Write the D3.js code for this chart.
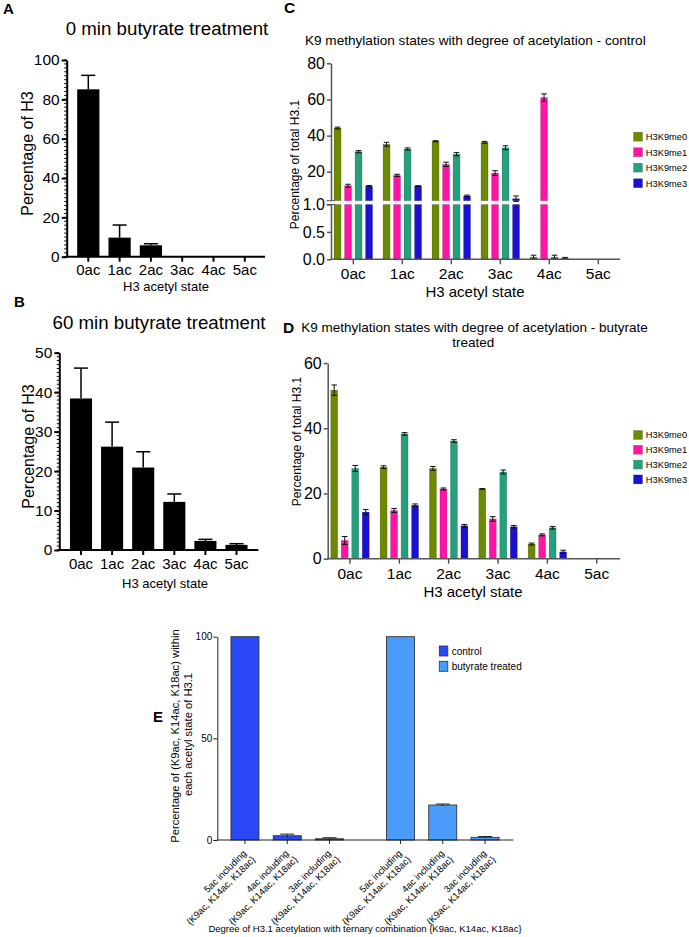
<!DOCTYPE html>
<html><head><meta charset="utf-8">
<script src="https://cdn.jsdelivr.net/npm/d3@7"></script>
<style>body{margin:0;background:#fff}</style>
</head><body><svg id="c" width="689" height="937"></svg>
<script>
// ---------- DATA ----------
const acetylStates = ["0ac","1ac","2ac","3ac","4ac","5ac"];
const yTicksA = [0,20,40,60,80,100];
const yTicksB = [0,10,20,30,40,50];
const pct0min = [85.1, 9.7, 5.8, 0, 0, 0];
const err0min = [7.1, 6.4, 0.8, 0, 0, 0];
const pct60min = [38.4, 26.2, 20.9, 12.2, 2.3, 1.3];
const err60min = [7.7, 6.2, 4.0, 2.0, 0.4, 0.3];

const methylStates = ["H3K9me0","H3K9me1","H3K9me2","H3K9me3"];
const methylColors = ["#6b8a00","#ff14a6","#26a07c","#1a10cf"];
// panel C (control)
const ctrlMe0 = [44.2, 35.2, 36.9, 36.3, 0.04, 0];
const ctrlMe1 = [12.3, 18.0, 24.1, 19.3, 61.0, 0];
const ctrlMe2 = [31.1, 32.6, 29.7, 33.3, 0.04, 0];
const ctrlMe3 = [12.0, 12.1, 6.6, 5.1, 0.02, 0];
const ctrlMe0Err = [0.5, 1.1, 0.3, 0.5, 0.035, 0];
const ctrlMe1Err = [0.8, 0.6, 1.2, 1.3, 2.1, 0];
const ctrlMe2Err = [0.6, 0.6, 0.9, 1.1, 0.035, 0];
const ctrlMe3Err = [0.4, 0.2, 0.5, 1.5, 0.015, 0];
const yTicksCLow = [0, 0.5, 1.0];
const yTicksCHigh = [20, 40, 60, 80];
// panel D (butyrate treated)
const butMe0 = [51.7, 28.1, 27.7, 21.4, 4.5, 0];
const butMe1 = [5.6, 14.8, 21.4, 12.2, 7.3, 0];
const butMe2 = [27.7, 38.3, 36.1, 26.6, 9.5, 0];
const butMe3 = [14.3, 16.4, 10.1, 9.8, 2.1, 0];
const butMe0Err = [1.6, 0.4, 0.6, 0.1, 0.3, 0];
const butMe1Err = [1.2, 0.6, 0.3, 0.7, 0.3, 0];
const butMe2Err = [0.9, 0.4, 0.4, 0.6, 0.4, 0];
const butMe3Err = [0.8, 0.4, 0.4, 0.4, 0.5, 0];
const yTicksD = [0, 20, 40, 60];
// panel E
const treatments = ["control","butyrate treated"];
const treatmentColors = ["#2a48f4","#4b9bfb"];
const ternaryStates = ["5ac","4ac","3ac"];
const ternaryCtrl = [100, 2.1, 0.6];
const ternaryCtrlErr = [0, 0.8, 0.5];
const ternaryBut = [100, 17.2, 1.3];
const ternaryButErr = [0, 0.5, 0.4];
const yTicksE = [0, 50, 100];

// ---------- DRAWING ----------
const FONT = '"Liberation Sans", Arial, Helvetica, sans-serif';
const svg = d3.select("#c").attr("font-family", FONT);
svg.append("rect").attr("width", 689).attr("height", 937).attr("fill", "#fff");

function text(x, y, s, size, opts = {}) {
  const t = svg.append("text").attr("x", x).attr("y", y).text(s)
    .attr("font-size", size).attr("fill", "#000")
    .attr("text-anchor", opts.anchor || "start");
  if (opts.bold) t.attr("font-weight", "bold");
  if (opts.rotate) t.attr("transform", `rotate(-90,${x},${y})`);
  return t;
}
function styleAxis(sel, color, width, size) {
  sel.attr("font-family", FONT).attr("font-size", size);
  sel.select(".domain").attr("stroke", color).attr("stroke-width", width);
  sel.selectAll(".tick line").attr("stroke", color).attr("stroke-width", width);
  sel.selectAll(".tick text").attr("fill", "#000");
}

// ----- panels A & B -----
function simplePanel(cfg) {
  const g = svg.append("g");
  const x = d3.scaleBand().domain(acetylStates).range(cfg.xr).paddingInner(0.29).paddingOuter(0.145);
  const y = d3.scaleLinear().domain([0, cfg.ymax]).range(cfg.yr);
  g.selectAll(null).data(cfg.vals).join("rect")
    .attr("x", (d, i) => x(acetylStates[i])).attr("width", x.bandwidth())
    .attr("y", d => y(d)).attr("height", d => y(0) - y(d)).attr("fill", "#000");
  cfg.vals.forEach((v, i) => {
    const e = cfg.errs[i]; if (!(e > 0)) return;
    const cx = x(acetylStates[i]) + x.bandwidth() / 2;
    g.append("line").attr("x1", cx).attr("x2", cx).attr("y1", y(v)).attr("y2", y(v + e)).attr("stroke", "#000").attr("stroke-width", 1.5);
    g.append("line").attr("x1", cx - 7).attr("x2", cx + 7).attr("y1", y(v + e)).attr("y2", y(v + e)).attr("stroke", "#000").attr("stroke-width", 1.5);
  });
  g.selectAll(null).data(d3.range(0, cfg.ymax + 0.001, cfg.minor)).join("line")
    .attr("x1", cfg.ax - 2.5).attr("x2", cfg.ax).attr("y1", d => y(d)).attr("y2", d => y(d))
    .attr("stroke", "#000").attr("stroke-width", 1);
  const ya = g.append("g").attr("transform", `translate(${cfg.ax},0)`)
    .call(d3.axisLeft(y).tickValues(cfg.ticks).tickSize(5).tickPadding(2).tickSizeOuter(0));
  styleAxis(ya, "#000", 2, 15.5);
  const xa = g.append("g").attr("transform", `translate(0,${y(0)})`)
    .call(d3.axisBottom(x).tickSize(5).tickPadding(3).tickSizeOuter(0));
  styleAxis(xa, "#000", 2, 15);
  xa.select(".domain").remove();
  g.append("line").attr("x1", cfg.ax - 1).attr("x2", cfg.xend).attr("y1", y(0)).attr("y2", y(0)).attr("stroke", "#000").attr("stroke-width", 2);
}
simplePanel({ xr: [72.65, 260.45], yr: [256.7, 60], ymax: 100, ticks: yTicksA, minor: 2, ax: 66.7, xend: 265, vals: pct0min, errs: err0min });
simplePanel({ xr: [65.45, 252.05], yr: [550, 352.7], ymax: 50, ticks: yTicksB, minor: 1, ax: 59.3, xend: 258.3, vals: pct60min, errs: err60min });
text(3, 14, "A", 15, { bold: true });
text(14, 307, "B", 15, { bold: true });
text(167, 35, "0 min butyrate treatment", 18.7, { anchor: "middle" });
text(159, 329, "60 min butyrate treatment", 18.7, { anchor: "middle" });
text(166, 291, "H3 acetyl state", 13, { anchor: "middle" });
text(165, 588, "H3 acetyl state", 13, { anchor: "middle" });
text(33, 153.5, "Percentage of H3", 16, { anchor: "middle", rotate: true });
text(34, 446.5, "Percentage of H3", 16, { anchor: "middle", rotate: true });

// ----- panels C & D -----
function groupedPanel(cfg) {
  const g = svg.append("g");
  const x0 = d3.scaleBand().domain(acetylStates).range(cfg.xr);
  const x1 = d3.scaleBand().domain(methylStates).range([-19.25, 19.25]).paddingInner(0.333);
  cfg.series.forEach((vals, si) => {
    vals.forEach((v, i) => {
      if (!(v > 0)) return;
      const bx = x0(acetylStates[i]) + x0.bandwidth() / 2 + x1(methylStates[si]);
      cfg.segments(v).forEach(([ya, yb]) => {
        g.append("rect").attr("x", bx).attr("width", x1.bandwidth())
          .attr("y", yb).attr("height", ya - yb).attr("fill", methylColors[si])
          .attr("stroke", "rgba(0,0,0,0.22)").attr("stroke-width", 0.7);
      });
      const e = cfg.errs[si][i];
      if (e > 0) {
        const cx = bx + x1.bandwidth() / 2;
        const yt = cfg.ypos(v + e), yb2 = cfg.ypos(Math.max(0, v - e));
        g.append("line").attr("x1", cx).attr("x2", cx).attr("y1", yt).attr("y2", yb2).attr("stroke", "#111").attr("stroke-width", 1);
        [yt, yb2].forEach(yy => g.append("line").attr("x1", cx - 2.8).attr("x2", cx + 2.8).attr("y1", yy).attr("y2", yy).attr("stroke", "#111").attr("stroke-width", 1));
      }
    });
  });
  cfg.yAxes.forEach(([scale, ticks, fmt]) => {
    const a = g.append("g").attr("transform", `translate(${cfg.ax},0)`)
      .call(d3.axisLeft(scale).tickValues(ticks).tickFormat(fmt).tickSize(4).tickPadding(2).tickSizeOuter(0));
    styleAxis(a, "#555", 1.5, 16);
  });
  const xa = g.append("g").attr("transform", `translate(0,${cfg.ybase})`)
    .call(d3.axisBottom(x0).tickSize(5).tickPadding(4).tickSizeOuter(0));
  styleAxis(xa, "#555", 1.5, 15.5);
  xa.select(".domain").remove();
  g.append("line").attr("x1", cfg.ax - 0.75).attr("x2", cfg.xend).attr("y1", cfg.ybase).attr("y2", cfg.ybase).attr("stroke", "#555").attr("stroke-width", 1.5);
  methylStates.forEach((m, i) => {
    const cy = cfg.legY + i * cfg.legStep;
    g.append("rect").attr("x", 633.5).attr("y", cy - 4.5).attr("width", 9).attr("height", 9)
      .attr("fill", methylColors[i]).attr("stroke", "rgba(0,0,0,0.25)").attr("stroke-width", 0.6);
    g.append("text").attr("x", 645.8).attr("y", cy + 3.4).attr("font-size", 9.3).attr("fill", "#000").text(m);
  });
}
const yLowC = d3.scaleLinear().domain([0, 1]).range([259.3, 204.5]);
const yHighC = d3.scaleLinear().domain([4, 80]).range([200.7, 63.3]);
groupedPanel({
  xr: [328.8, 622.8], ax: 331, xend: 620, ybase: 259.3,
  series: [ctrlMe0, ctrlMe1, ctrlMe2, ctrlMe3],
  errs: [ctrlMe0Err, ctrlMe1Err, ctrlMe2Err, ctrlMe3Err],
  segments: v => v <= 1 ? [[yLowC(0), yLowC(v)]] : [[yLowC(0), yLowC(1)], [yHighC(4), yHighC(v)]],
  ypos: v => v <= 1 ? yLowC(v) : yHighC(v),
  yAxes: [[yLowC, yTicksCLow, d3.format(".1f")], [yHighC, yTicksCHigh, d3.format("d")]],
  legY: 136.7, legStep: 15.5
});
[200.7, 204.5].forEach(yy => svg.append("line").attr("x1", 326.5).attr("x2", 335).attr("y1", yy).attr("y2", yy).attr("stroke", "#555").attr("stroke-width", 1));

const yD = d3.scaleLinear().domain([0, 60]).range([558.7, 363.1]);
groupedPanel({
  xr: [325.3, 621.4], ax: 327.7, xend: 620, ybase: 558.7,
  series: [butMe0, butMe1, butMe2, butMe3],
  errs: [butMe0Err, butMe1Err, butMe2Err, butMe3Err],
  segments: v => [[yD(0), yD(v)]],
  ypos: v => yD(v),
  yAxes: [[yD, yTicksD, d3.format("d")]],
  legY: 435, legStep: 14.8
});
text(284, 13, "C", 15.5, { bold: true });
text(283, 333, "D", 15.5, { bold: true });
text(475.3, 45, "K9 methylation states with degree of acetylation - control", 13.6, { anchor: "middle" });
text(474.5, 331.7, "K9 methylation states with degree of acetylation - butyrate", 13.5, { anchor: "middle" });
text(473.3, 346.7, "treated", 13.5, { anchor: "middle" });
text(475, 297.3, "H3 acetyl state", 15, { anchor: "middle" });
text(473, 597, "H3 acetyl state", 15, { anchor: "middle" });
text(299.3, 164.5, "Percentage of total H3.1", 12, { anchor: "middle", rotate: true });
text(301, 441.5, "Percentage of total H3.1", 12, { anchor: "middle", rotate: true });

// ----- panel E -----
(function () {
  const g = svg.append("g");
  const y = d3.scaleLinear().domain([0, 100]).range([840, 636.7]);
  const xo = d3.scaleBand().domain(treatments).range([209.5, 520.5]);
  const xi = d3.scaleBand().domain(ternaryStates).range([-56.3, 56.3]).paddingInner(0.338);
  const vals = [ternaryCtrl, ternaryBut], errs = [ternaryCtrlErr, ternaryButErr];
  treatments.forEach((t, ti) => {
    ternaryStates.forEach((s, si) => {
      const v = vals[ti][si], e = errs[ti][si];
      const bx = xo(t) + xo.bandwidth() / 2 + xi(s);
      g.append("rect").attr("x", bx).attr("width", xi.bandwidth()).attr("y", y(v)).attr("height", y(0) - y(v))
        .attr("fill", treatmentColors[ti]).attr("stroke", "#333").attr("stroke-width", 0.9);
      const cx = bx + xi.bandwidth() / 2;
      if (e > 0) {
        g.append("line").attr("x1", cx).attr("x2", cx).attr("y1", y(v - e)).attr("y2", y(v + e)).attr("stroke", "#222").attr("stroke-width", 1);
        g.append("line").attr("x1", cx - 7).attr("x2", cx + 7).attr("y1", y(v + e)).attr("y2", y(v + e)).attr("stroke", "#222").attr("stroke-width", 1);
      }
      g.append("line").attr("x1", cx).attr("x2", cx).attr("y1", 840).attr("y2", 844).attr("stroke", "#222").attr("stroke-width", 1);
      const lg = g.append("g").attr("transform", `translate(${cx + 2},854) rotate(-45)`);
      lg.append("text").attr("x", 0).attr("y", 0).attr("text-anchor", "end").attr("font-size", 9.5).attr("fill", "#000").text(`${s} including`);
      lg.append("text").attr("x", 2).attr("y", 10.6).attr("text-anchor", "end").attr("font-size", 9.5).attr("fill", "#000").text("{K9ac, K14ac, K18ac}");
    });
  });
  const ya = g.append("g").attr("transform", "translate(217.3,0)")
    .call(d3.axisLeft(y).tickValues(yTicksE).tickSize(4).tickPadding(1).tickSizeOuter(0));
  styleAxis(ya, "#222", 1, 10);
  g.append("line").attr("x1", 216.8).attr("x2", 513.3).attr("y1", 840).attr("y2", 840).attr("stroke", "#222").attr("stroke-width", 1.2);
  treatments.forEach((t, i) => {
    const yy = 646 + i * 15.3;
    g.append("rect").attr("x", 439.3).attr("y", yy).attr("width", 8.5).attr("height", 10)
      .attr("fill", treatmentColors[i]).attr("stroke", "#333").attr("stroke-width", 0.8);
    g.append("text").attr("x", 451.7).attr("y", yy + 8.5).attr("font-size", 10).attr("fill", "#000").text(t);
  });
})();
text(153, 722, "E", 15, { bold: true });
text(179, 736, "Percentage of (K9ac, K14ac, K18ac) within", 11.2, { anchor: "middle", rotate: true });
text(192.3, 734.5, "each acetyl state of H3.1", 11.2, { anchor: "middle", rotate: true });
text(365, 932, "Degree of H3.1 acetylation with ternary combination {K9ac, K14ac, K18ac}", 9.5, { anchor: "middle" });
</script></body></html>
